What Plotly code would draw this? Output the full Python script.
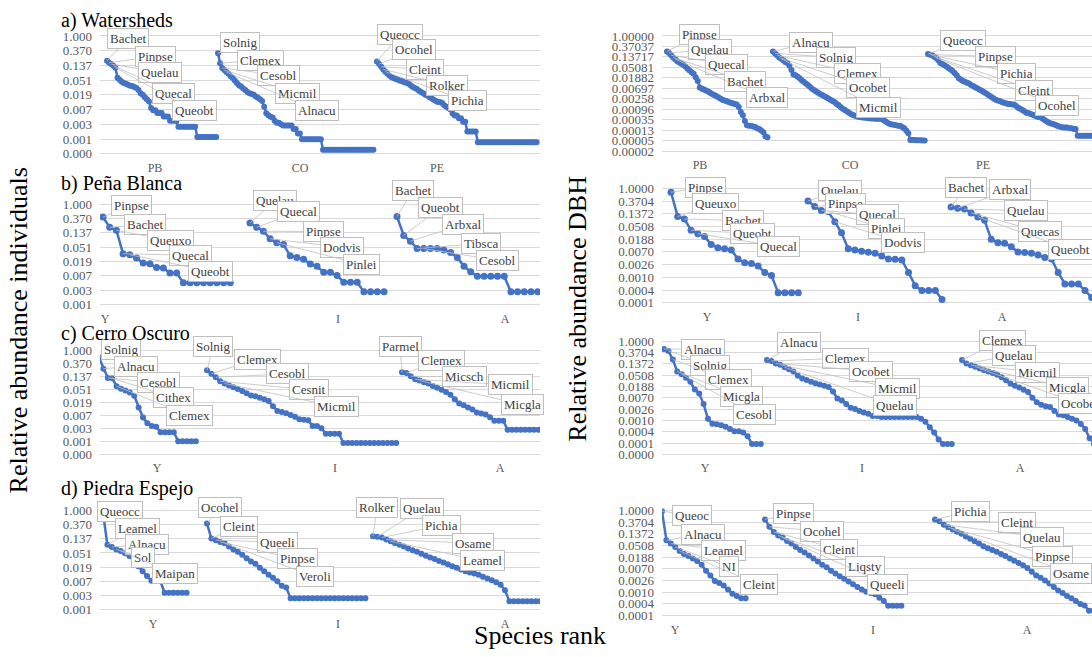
import math
import plotly.graph_objects as go

W, H = 1092, 657
BLUE = '#4472C4'
GRID = '#d9d9d9'
TXT = '#595959'
BOXLINE = '#bfbfbf'
SERIF = 'Liberation Serif'

# ---------------- data: relative abundances by species rank ----------------
# a) Watersheds, individuals
ws_ind_PB = [0.188, 0.165, 0.15, 0.135, 0.118, 0.06, 0.052, 0.046, 0.042, 0.040, 0.037, 0.035, 0.034, 0.032,
             0.030, 0.026, 0.021, 0.019, 0.016, 0.014, 0.012, 0.0078, 0.0067, 0.0067, 0.0056, 0.0056, 0.0056,
             0.0044, 0.0044, 0.0044, 0.0033, 0.0033, 0.0033, 0.0033, 0.0022, 0.0022, 0.0022, 0.0022, 0.0022,
             0.0022, 0.0022, 0.0022, 0.0022, 0.0011, 0.0011, 0.0011, 0.0011, 0.0011, 0.0011, 0.0011, 0.0011,
             0.0011, 0.0011]
ws_ind_CO = [0.31, 0.16, 0.116, 0.10, 0.088, 0.078, 0.066, 0.059, 0.050, 0.042, 0.036, 0.033, 0.029, 0.026,
             0.023, 0.021, 0.020, 0.019, 0.017, 0.0155, 0.014, 0.0125, 0.0085, 0.0055, 0.0048, 0.0043, 0.0041,
             0.0033, 0.0029, 0.0029, 0.0026, 0.0024, 0.0024, 0.0024, 0.0024, 0.0024, 0.0019, 0.0019, 0.0014,
             0.0014, 0.00095, 0.00095, 0.00095, 0.00095, 0.00095, 0.00095, 0.00095, 0.00095, 0.00095, 0.00095,
             0.00047, 0.00047, 0.00047, 0.00047, 0.00047, 0.00047, 0.00047, 0.00047, 0.00047, 0.00047,
             0.00047, 0.00047, 0.00047, 0.00047, 0.00047, 0.00047, 0.00047, 0.00047, 0.00047, 0.00047,
             0.00047, 0.00047, 0.00047, 0.00047, 0.00047]
ws_ind_PE = [0.18, 0.15, 0.125, 0.105, 0.09, 0.078, 0.068, 0.062, 0.058, 0.055, 0.052, 0.049, 0.047, 0.044,
             0.043, 0.040, 0.036, 0.032, 0.030, 0.028, 0.025, 0.023, 0.021, 0.019, 0.018, 0.016, 0.015, 0.0135,
             0.0125, 0.0117, 0.0117, 0.0109, 0.0093, 0.0085, 0.0078, 0.0070, 0.0054, 0.0047, 0.0047, 0.0039,
             0.0039, 0.0031, 0.0031, 0.0016, 0.0016, 0.0016, 0.0016, 0.0016, 0.00078, 0.00078, 0.00078,
             0.00078, 0.00078, 0.00078, 0.00078, 0.00078, 0.00078, 0.00078, 0.00078, 0.00078, 0.00078,
             0.00078, 0.00078, 0.00078, 0.00078, 0.00078, 0.00078, 0.00078, 0.00078, 0.00078, 0.00078,
             0.00078, 0.00078, 0.00078, 0.00078, 0.00078, 0.00078]
# a) Watersheds, DBH
ws_dbh_PB = [0.23, 0.20, 0.16, 0.13, 0.11, 0.09, 0.08, 0.072, 0.066, 0.055, 0.045, 0.038, 0.032, 0.028, 0.020,
             0.014, 0.0076, 0.0068, 0.0062, 0.0057, 0.0052, 0.0046, 0.0041, 0.0037, 0.0034, 0.0030, 0.0027,
             0.0024, 0.0022, 0.0021, 0.0019, 0.0018, 0.0017, 0.0016, 0.0015, 0.0012, 0.00075, 0.00055, 0.00032,
             0.00021, 0.00020, 0.00020, 0.00019, 0.00018, 0.00016, 0.00015, 0.00013, 0.00011, 0.000075, 0.000068]
ws_dbh_CO = [0.23, 0.19, 0.16, 0.13, 0.115, 0.10, 0.085, 0.077, 0.06, 0.04, 0.026, 0.024, 0.021, 0.018, 0.015,
             0.013, 0.011, 0.0095, 0.0082, 0.0068, 0.006, 0.0052, 0.0046, 0.0041, 0.0037, 0.0033, 0.0030, 0.0027,
             0.0024, 0.0021, 0.0019, 0.0016, 0.0014, 0.0012, 0.0010, 0.0009, 0.0008, 0.0007, 0.00061, 0.00056,
             0.00052, 0.00048, 0.00046, 0.00045, 0.00044, 0.00043, 0.00042, 0.00041, 0.00040, 0.00040, 0.00039,
             0.00039, 0.00039, 0.00038, 0.00034, 0.00030, 0.00026, 0.00024, 0.00023, 0.00022, 0.00021, 0.00020,
             0.00020, 0.00018, 0.00016, 0.00013, 0.00010, 0.000052, 0.000052, 0.000052, 0.000051, 0.000051,
             0.000051, 0.00005, 0.00005]
ws_dbh_PE = [0.18, 0.17, 0.16, 0.14, 0.125, 0.10, 0.077, 0.07, 0.062, 0.055, 0.048, 0.042, 0.036, 0.030, 0.024,
             0.018, 0.016, 0.014, 0.013, 0.012, 0.011, 0.0095, 0.0087, 0.0078, 0.0070, 0.0063, 0.0057, 0.0051,
             0.0045, 0.0040, 0.0035, 0.0031, 0.0027, 0.0024, 0.0022, 0.0021, 0.0019, 0.0018, 0.0017, 0.0016,
             0.0016, 0.0015, 0.0015, 0.0013, 0.0011, 0.0010, 0.0009, 0.0008, 0.0007, 0.00068, 0.00062, 0.00057,
             0.00053, 0.00049, 0.00046, 0.00044, 0.00039, 0.00034, 0.00030, 0.00027, 0.00025, 0.00024, 0.00022,
             0.00020, 0.00019, 0.00018, 0.00017, 0.00017, 0.00017, 0.00016, 0.00016, 0.00015, 0.00015,
             0.000078, 0.000078, 0.000078, 0.000078, 0.000078, 0.000078, 0.000078, 0.000078, 0.000078]
# b) Pena Blanca
pb_ind_Y = [0.41, 0.20, 0.164, 0.032, 0.030, 0.024, 0.017, 0.016, 0.0125, 0.012, 0.0085, 0.0085, 0.0043, 0.0043,
            0.0043, 0.0043, 0.0043, 0.0043, 0.0043, 0.0043]
pb_ind_I = [0.27, 0.20, 0.153, 0.091, 0.069, 0.061, 0.028, 0.025, 0.022, 0.0157, 0.0135, 0.0089, 0.0089, 0.0071,
            0.0045, 0.0045, 0.0045, 0.0023, 0.0023, 0.0023, 0.0023]
pb_ind_A = [0.425, 0.114, 0.077, 0.046, 0.046, 0.046, 0.046, 0.042, 0.035, 0.025, 0.0135, 0.0093, 0.0068, 0.0068,
            0.0068, 0.0068, 0.0068, 0.0023, 0.0023, 0.0023, 0.0023, 0.0023]
pb_dbh_Y = [0.735, 0.111, 0.091, 0.038, 0.029, 0.023, 0.0125, 0.0097, 0.0090, 0.0081, 0.0040, 0.0030, 0.0028,
            0.0023, 0.0014, 0.0011, 0.00029, 0.00029, 0.00029, 0.00029]
pb_dbh_I = [0.374, 0.241, 0.177, 0.164, 0.074, 0.031, 0.0090, 0.0081, 0.0074, 0.0068, 0.0063, 0.0051, 0.0040,
            0.0039, 0.0037, 0.0014, 0.0005, 0.00034, 0.00034, 0.00034, 0.00017]
pb_dbh_A = [0.23, 0.212, 0.198, 0.146, 0.107, 0.082, 0.0186, 0.0143, 0.0136, 0.0105, 0.0069, 0.0066, 0.0063,
            0.0055, 0.0045, 0.0040, 0.0014, 0.00057, 0.00057, 0.00057, 0.00034, 0.0002]
# c) Cerro Oscuro
co_ind_Y = [0.59, 0.25, 0.123, 0.12, 0.065, 0.054, 0.047, 0.040, 0.031, 0.0126, 0.0059, 0.0038, 0.0031, 0.0029,
            0.0019, 0.0019, 0.0019, 0.0019, 0.00096, 0.00096, 0.00096, 0.00096, 0.00096]
co_ind_I = [0.22, 0.17, 0.13, 0.095, 0.080, 0.068, 0.060, 0.053, 0.045, 0.038, 0.032, 0.030, 0.027, 0.024, 0.021,
            0.014, 0.0098, 0.0090, 0.0082, 0.0072, 0.0062, 0.0052, 0.0050, 0.0048, 0.0031, 0.0031, 0.0026, 0.0017,
            0.0017, 0.0017, 0.0017, 0.00083, 0.00083, 0.00083, 0.00083, 0.00083, 0.00083, 0.00083, 0.00083,
            0.00083, 0.00083, 0.00083, 0.00083, 0.00083]
co_ind_A = [0.19, 0.18, 0.14, 0.11, 0.10, 0.088, 0.080, 0.066, 0.058, 0.050, 0.042, 0.034, 0.024, 0.0172, 0.0150,
            0.0126, 0.0110, 0.0086, 0.0080, 0.0074, 0.0060, 0.0046, 0.0046, 0.0046, 0.0023, 0.0023, 0.0023,
            0.0023, 0.0023, 0.0023, 0.0023, 0.0023]
co_dbh_Y = [0.50, 0.42, 0.20, 0.070, 0.055, 0.040, 0.028, 0.0143, 0.010, 0.0040, 0.0011, 0.00072, 0.00068,
            0.00062, 0.00055, 0.00045, 0.00037, 0.00037, 0.00033, 0.00024, 0.000122, 0.000122, 0.000122]
co_dbh_I = [0.19, 0.175, 0.14, 0.125, 0.10, 0.085, 0.070, 0.048, 0.038, 0.033, 0.028, 0.025, 0.022, 0.020, 0.018,
            0.012, 0.0065, 0.0055, 0.0040, 0.0029, 0.0026, 0.0022, 0.0019, 0.0017, 0.0014, 0.0014, 0.0013, 0.0013,
            0.0013, 0.0013, 0.0013, 0.0013, 0.0013, 0.0013, 0.0013, 0.0011, 0.00085, 0.00052, 0.00033, 0.00018,
            0.000122, 0.000122, 0.000122]
co_dbh_A = [0.19, 0.14, 0.12, 0.105, 0.09, 0.078, 0.070, 0.061, 0.052, 0.042, 0.032, 0.024, 0.020, 0.0170, 0.0140,
            0.0115, 0.0070, 0.0047, 0.0038, 0.0033, 0.0031, 0.0022, 0.0016, 0.0015, 0.0013, 0.0011, 0.00095,
            0.00070, 0.00045, 0.00020, 0.00012, 0.00008]
# d) Piedra Espejo
pe_ind_Y = [0.87, 0.09, 0.077, 0.065, 0.058, 0.050, 0.041, 0.030, 0.020, 0.014, 0.010, 0.0072, 0.0072, 0.0072,
            0.0031, 0.0031, 0.0031, 0.0031, 0.0031, 0.0031]
pe_ind_I = [0.40, 0.14, 0.125, 0.11, 0.10, 0.08, 0.065, 0.055, 0.045, 0.035, 0.028, 0.024, 0.018, 0.014, 0.011,
            0.0089, 0.0070, 0.0051, 0.0045, 0.0021, 0.0021, 0.0021, 0.0021, 0.0021, 0.0021, 0.0021, 0.0021,
            0.0021, 0.0021, 0.0021, 0.0021, 0.0021, 0.0021, 0.0021, 0.0021, 0.0021, 0.0021]
pe_ind_A = [0.164, 0.16, 0.15, 0.13, 0.115, 0.10, 0.09, 0.08, 0.07, 0.062, 0.055, 0.048, 0.042, 0.037, 0.033,
            0.029, 0.026, 0.023, 0.020, 0.018, 0.016, 0.014, 0.013, 0.012, 0.011, 0.0095, 0.0085, 0.0075, 0.0065,
            0.0055, 0.0037, 0.0017, 0.0017, 0.0017, 0.0017, 0.0017, 0.0017, 0.0017, 0.0017]
pe_dbh_Y = [0.95, 0.08, 0.060, 0.045, 0.032, 0.025, 0.021, 0.017, 0.0137, 0.010, 0.0059, 0.004, 0.0025, 0.0021,
            0.0017, 0.0012, 0.00085, 0.00070, 0.00057, 0.00057]
pe_dbh_I = [0.47, 0.25, 0.16, 0.12, 0.10, 0.075, 0.06, 0.045, 0.035, 0.028, 0.022, 0.017, 0.013, 0.010, 0.008,
            0.006, 0.0047, 0.0037, 0.0030, 0.0024, 0.0019, 0.0015, 0.0012, 0.0010, 0.0009, 0.0008, 0.0006,
            0.00045, 0.00030, 0.00030, 0.00030, 0.00030]
pe_dbh_A = [0.47, 0.40, 0.30, 0.24, 0.20, 0.165, 0.14, 0.11, 0.090, 0.073, 0.060, 0.048, 0.040, 0.035, 0.030,
            0.025, 0.021, 0.017, 0.014, 0.0115, 0.0095, 0.0075, 0.0055, 0.0040, 0.0033, 0.0026, 0.0020, 0.0015,
            0.0011, 0.0009, 0.0007, 0.00057, 0.00045, 0.00035, 0.00031, 0.00020, 0.00020]

# species labels (top five of each curve)
ws_ind_lab = [['Bachet', 'Pinpse', 'Quelau', 'Quecal', 'Queobt'], ['Solnig', 'Clemex', 'Cesobl', 'Micmil', 'Alnacu'],
              ['Queocc', 'Ocohel', 'Cleint', 'Rolker', 'Pichia']]
ws_dbh_lab = [['Pinpse', 'Quelau', 'Quecal', 'Bachet', 'Arbxal'], ['Alnacu', 'Solnig', 'Clemex', 'Ocobet', 'Micmil'],
              ['Queocc', 'Pinpse', 'Pichia', 'Cleint', 'Ocohel']]
pb_ind_lab = [['Pinpse', 'Bachet', 'Queuxo', 'Quecal', 'Queobt'], ['Quelau', 'Quecal', 'Pinpse', 'Dodvis', 'Pinlei'],
              ['Bachet', 'Queobt', 'Arbxal', 'Tibsca', 'Cesobl']]
pb_dbh_lab = [['Pinpse', 'Queuxo', 'Bachet', 'Queobt', 'Quecal'], ['Quelau', 'Pinpse', 'Quecal', 'Pinlei', 'Dodvis'],
              ['Bachet', 'Arbxal', 'Quelau', 'Quecas', 'Queobt']]
co_ind_lab = [['Solnig', 'Alnacu', 'Cesobl', 'Cithex', 'Clemex'], ['Solnig', 'Clemex', 'Cesobl', 'Cesnit', 'Micmil'],
              ['Parmel', 'Clemex', 'Micsch', 'Micmil', 'Micgla']]
co_dbh_lab = [['Alnacu', 'Solnig', 'Clemex', 'Micgla', 'Cesobl'], ['Alnacu', 'Clemex', 'Ocobet', 'Micmil', 'Quelau'],
              ['Clemex', 'Quelau', 'Micmil', 'Micgla', 'Ocobet']]
pe_ind_lab = [['Queocc', 'Leamel', 'Alnacu', 'Sol', 'Maipan'], ['Ocohel', 'Cleint', 'Queeli', 'Pinpse', 'Veroli'],
              ['Rolker', 'Quelau', 'Pichia', 'Osame', 'Leamel']]
pe_dbh_lab = [['Queoc', 'Alnacu', 'Leamel', 'NI', 'Cleint'], ['Pinpse', 'Ocohel', 'Cleint', 'Liqsty', 'Queeli'],
              ['Pichia', 'Cleint', 'Quelau', 'Pinpse', 'Osame']]

# tick labels
tick3_9 = ['1.000', '0.370', '0.137', '0.051', '0.019', '0.007', '0.003', '0.001', '0.000']
tick3_8 = ['1.000', '0.370', '0.137', '0.051', '0.019', '0.007', '0.003', '0.001']
tick5_12 = ['1.00000', '0.37037', '0.13717', '0.05081', '0.01882', '0.00697', '0.00258', '0.00096', '0.00035',
            '0.00013', '0.00005', '0.00002']
tick4_10 = ['1.0000', '0.3704', '0.1372', '0.0508', '0.0188', '0.0070', '0.0026', '0.0010', '0.0004', '0.0001']
tick4_11 = tick4_10 + ['0.0000']
cats_site = ['PB', 'CO', 'PE']
cats_age = ['Y', 'I', 'A']

# ---------------- layout of the eight panels (pixel geometry) ----------------
panels = [
    dict(L=100, R=540, y0=34.3, dy=14.9, ticks=tick3_9, step=2.1, starts=[107, 218, 377], cats=cats_site,
         catpos=[155, 300, 437], series=[ws_ind_PB, ws_ind_CO, ws_ind_PE], labels=ws_ind_lab, msize=6,
         boxes=[[(128, 37), (155, 55), (160, 71), (173, 92), (194, 110)],
                [(240, 41), (260, 59), (278, 74), (297, 92), (317, 110)],
                [(400, 33), (414, 48), (425, 68), (447, 84), (467, 100)]]),
    dict(L=662, R=1092, y0=34.3, dy=10.6, ticks=tick5_12, step=2.05, starts=[667, 773, 928], cats=cats_site,
         catpos=[700, 850, 983], series=[ws_dbh_PB, ws_dbh_CO, ws_dbh_PE], labels=ws_dbh_lab, msize=6,
         boxes=[[(699, 33), (710, 48), (726, 63), (745, 80), (767, 97)],
                [(811, 41), (836, 56), (857, 72), (868, 86), (878, 107)],
                [(963, 39), (995, 55), (1016, 72), (1034, 89), (1057, 105)]]),
    dict(L=100, R=540, y0=204.3, dy=14.5, ticks=tick3_8, step=6.7, starts=[103, 250, 397], cats=cats_age,
         catpos=[105, 338, 505], series=[pb_ind_Y, pb_ind_I, pb_ind_A], labels=pb_ind_lab, msize=7,
         boxes=[[(131, 206), (145, 225), (170, 241), (190, 256), (210, 272)],
                [(275, 201), (298, 212), (323, 232), (342, 248), (361, 265)],
                [(413, 191), (440, 208), (463, 225), (481, 244), (497, 261)]]),
    dict(L=662, R=1092, y0=188.3, dy=12.86, ticks=tick4_10, step=6.7, starts=[671, 808, 951], cats=cats_age,
         catpos=[707, 858, 1002], series=[pb_dbh_Y, pb_dbh_I, pb_dbh_A], labels=pb_dbh_lab, msize=7,
         boxes=[[(705, 187), (715, 204), (743, 221), (752, 234), (778, 247)],
                [(840, 191), (845, 204), (877, 215), (886, 229), (903, 243)],
                [(966, 187), (1010, 190), (1026, 211), (1040, 232), (1070, 250)]]),
    dict(L=100, R=540, y0=352.3, dy=13.1, ticks=tick3_9, step=4.4, starts=[99, 207, 402], cats=cats_age,
         catpos=[157, 335, 500], series=[co_ind_Y, co_ind_I, co_ind_A], labels=co_ind_lab, msize=6,
         boxes=[[(121, 351), (136, 368), (158, 385), (173, 400), (189, 418)],
                [(213, 348), (257, 361), (287, 376), (309, 392), (336, 409)],
                [(400, 348), (441, 362), (464, 379), (510, 387), (522, 407)]]),
    dict(L=662, R=1092, y0=342.7, dy=11.46, ticks=tick4_11, step=4.4, starts=[664, 767, 962], cats=cats_age,
         catpos=[705, 862, 1020], series=[co_dbh_Y, co_dbh_I, co_dbh_A], labels=co_dbh_lab, msize=6,
         boxes=[[(703, 351), (710, 367), (728, 382), (741, 399), (754, 417)],
                [(799, 344), (845, 360), (871, 373), (897, 391), (895, 408)],
                [(1002, 342), (1014, 357), (1037, 374), (1067, 390), (1080, 406)]]),
    dict(L=100, R=540, y0=514, dy=14.3, ticks=tick3_8, step=4.4, starts=[103, 207, 373], cats=cats_age,
         catpos=[153, 338, 505], series=[pe_ind_Y, pe_ind_I, pe_ind_A], labels=pe_ind_lab, msize=6,
         boxes=[[(120, 515), (137, 532), (147, 548), (143, 561), (175, 578)],
                [(220, 511), (239, 530), (277, 546), (297, 563), (315, 581)],
                [(377, 511), (422, 512), (441, 529), (473, 547), (482, 565)]]),
    dict(L=662, R=1092, y0=514, dy=11.8, ticks=tick4_10, step=4.4, starts=[662, 765, 935], cats=cats_age,
         catpos=[675, 873, 1027], series=[pe_dbh_Y, pe_dbh_I, pe_dbh_A], labels=pe_dbh_lab, msize=6,
         boxes=[[(692, 519), (703, 538), (723, 554), (729, 571), (759, 589)],
                [(793, 517), (822, 535), (839, 553), (865, 571), (887, 589)],
                [(970, 515), (1017, 526), (1042, 541), (1052, 560), (1071, 578)]]),
]

LOG27 = math.log10(2.7)
fig = go.Figure()
annotations = []
layout = {}

for n, p in enumerate(panels, start=1):
    xa = 'x' if n == 1 else f'x{n}'
    ya = 'y' if n == 1 else f'y{n}'
    nt = len(p['ticks'])
    top_px = p['y0'] - 5
    bot_px = p['y0'] + (nt - 1) * p['dy'] + 3
    k_top = (top_px - p['y0']) / p['dy']
    k_bot = (bot_px - p['y0']) / p['dy']
    L, R, step = p['L'], p['R'], p['step']

    def xd(px):
        return (px - L) / step

    def yd(py):  # pixel -> log10 value
        return -((py - p['y0']) / p['dy']) * LOG27

    layout['xaxis' if n == 1 else f'xaxis{n}'] = dict(
        domain=[L / W, R / W], range=[0, (R - L) / step], anchor=ya, showgrid=False, zeroline=False,
        showline=False, ticks='', tickvals=[xd(c) for c in p['catpos']], ticktext=p['cats'],
        tickfont=dict(family=SERIF, size=12, color=TXT), ticklabelstandoff=2)
    layout['yaxis' if n == 1 else f'yaxis{n}'] = dict(
        domain=[1 - bot_px / H, 1 - top_px / H], type='log', range=[-k_bot * LOG27, -k_top * LOG27],
        anchor=xa, tickvals=[2.7 ** (-k) for k in range(nt)], ticktext=p['ticks'], showgrid=True,
        gridcolor=GRID, gridwidth=1, zeroline=False, showline=False, ticks='',
        tickfont=dict(family=SERIF, size=13, color=TXT), ticklabelstandoff=7)

    for s, vals in enumerate(p['series']):
        x0 = xd(p['starts'][s])
        xs = [x0 + i for i in range(len(vals))]
        fig.add_trace(go.Scatter(x=xs, y=vals, xaxis=xa, yaxis=ya, mode='lines+markers',
                                 line=dict(color=BLUE, width=2.5),
                                 marker=dict(color=BLUE, size=p['msize']), showlegend=False,
                                 hoverinfo='skip'))
        for j, name in enumerate(p['labels'][s]):
            bx, by = p['boxes'][s][j]
            annotations.append(dict(
                x=xs[j], y=math.log10(vals[j]), xref=xa, yref=ya, ax=xd(bx), ay=yd(by), axref=xa, ayref=ya,
                text=name, showarrow=True, arrowhead=0, arrowwidth=0.8, arrowcolor=BOXLINE,
                font=dict(family=SERIF, size=13, color='#404040'), bgcolor='white', bordercolor=BOXLINE,
                borderwidth=1, borderpad=2))

# panel titles
for txt, py in [('a) Watersheds', 19), ('b) Peña Blanca', 183), ('c) Cerro Oscuro', 335), ('d) Piedra Espejo', 492)]:
    annotations.append(dict(x=59 / W, y=1 - py / H, xref='paper', yref='paper', xanchor='left', yanchor='middle',
                            text=txt, showarrow=False, font=dict(family=SERIF, size=20, color='black')))
# axis titles
annotations.append(dict(x=18 / W, y=1 - 332 / H, xref='paper', yref='paper', xanchor='center', yanchor='middle',
                        text='Relative abundance individuals', textangle=-90, showarrow=False,
                        font=dict(family=SERIF, size=26, color='black')))
annotations.append(dict(x=578 / W, y=1 - 310 / H, xref='paper', yref='paper', xanchor='center', yanchor='middle',
                        text='Relative abundance DBH', textangle=-90, showarrow=False,
                        font=dict(family=SERIF, size=26, color='black')))
annotations.append(dict(x=540 / W, y=1 - 640 / H, xref='paper', yref='paper', xanchor='center', yanchor='middle',
                        text='Species rank', showarrow=False, font=dict(family=SERIF, size=26, color='black')))

fig.update_layout(width=W, height=H, margin=dict(l=0, r=0, t=0, b=0), paper_bgcolor='white',
                  plot_bgcolor='white', showlegend=False, annotations=annotations, **layout)
fig.write_html('out.html')
